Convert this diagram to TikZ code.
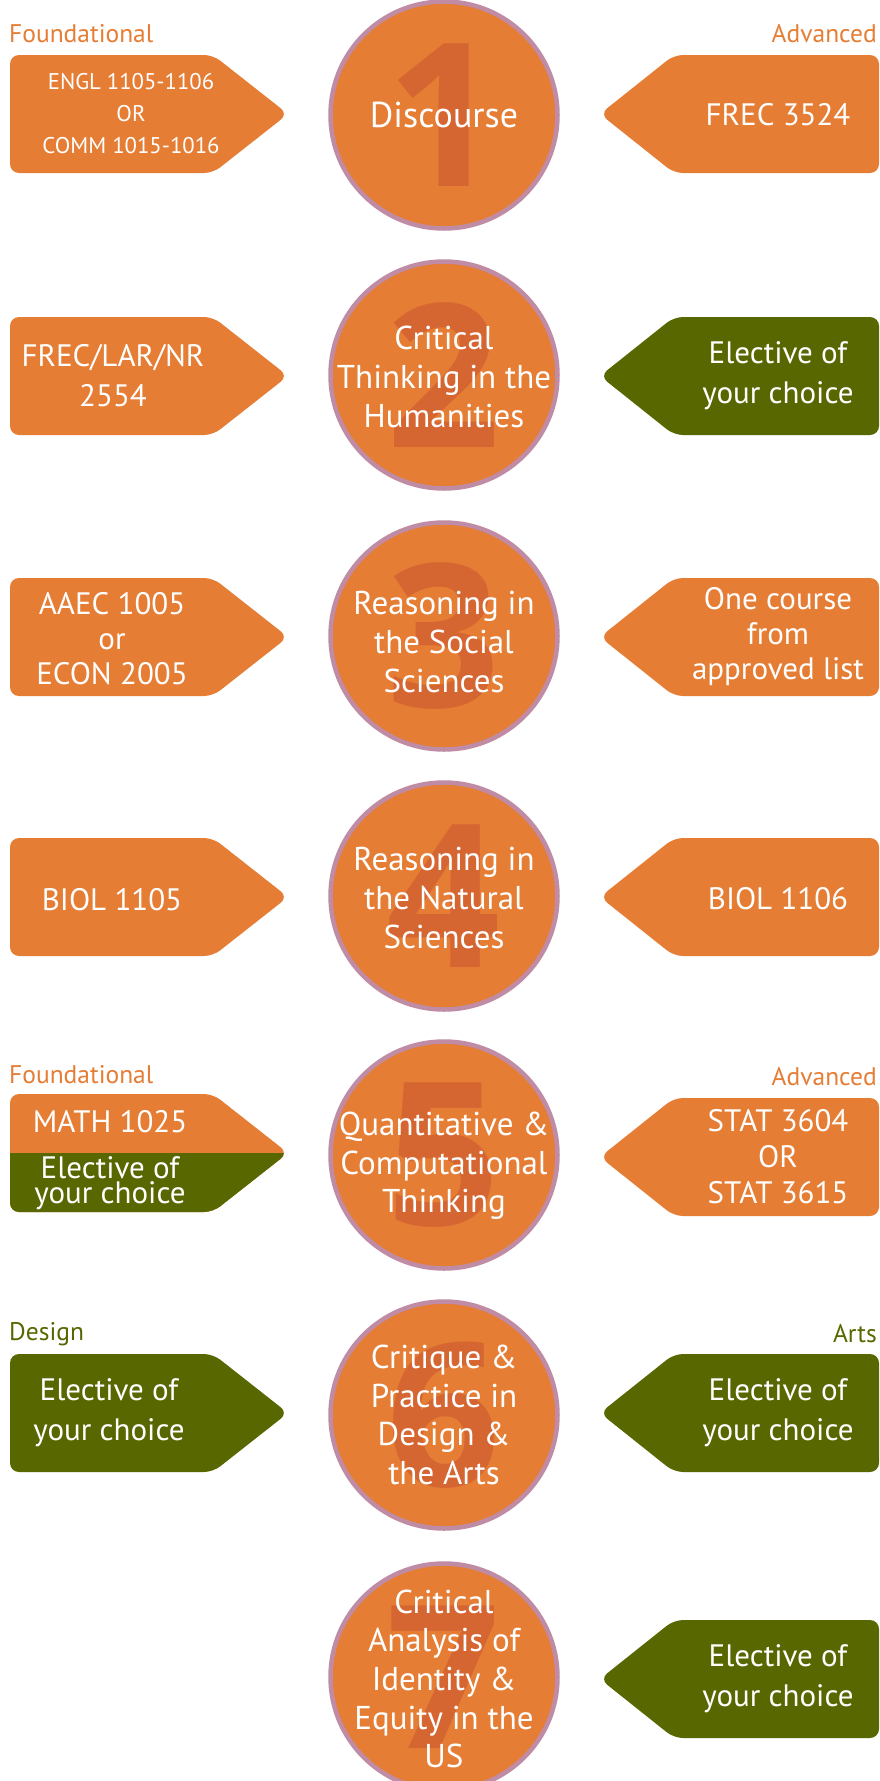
\documentclass[tikz,border=0pt]{standalone}
\usepackage{fontspec}
\setmainfont{PT Sans}
\newfontfamily\digitfont{Open Sans}
\definecolor{org}{RGB}{229,125,52}
\definecolor{grn}{RGB}{88,103,0}
\definecolor{dorg}{RGB}{213,102,50}
\definecolor{mauve}{RGB}{192,140,165}
\newcommand{\lpent}[3]{% name, yc, colour
  \fill[#3, rounded corners=9pt] (10,#2-59) -- (213,#2-59) -- (288,#2) -- (213,#2+59) -- (10,#2+59) -- cycle;
  \coordinate (#1) at (147,#2);}
\newcommand{\rpent}[3]{%
  \fill[#3, rounded corners=9pt] (879,#2-59) -- (674,#2-59) -- (600,#2) -- (674,#2+59) -- (879,#2+59) -- cycle;
  \coordinate (#1) at (741,#2);}
\begin{document}
\begin{tikzpicture}[x=1pt,y=-1pt,
  circ/.style={circle, fill=org, draw=mauve, line width=4.5pt, minimum size=227pt, inner sep=0pt,
    text=dorg, font=\digitfont\fontsize{200}{200}\selectfont\bfseries},
  ctext/.style={text=white, align=center, inner sep=0pt, font=\fontsize{33}{38.6}\selectfont},
  ptext/.style={text=white, align=center, inner sep=0pt, font=\fontsize{31}{40}\selectfont},
  stext/.style={text=white, align=center, inner sep=0pt, font=\fontsize{22.7}{32}\selectfont},
  lab/.style={inner sep=0pt, font=\fontsize{25.5}{28}\selectfont},
]
\useasboundingbox (0,0) rectangle (879,1781);
\fill[white] (0,0) rectangle (879,1781);

% labels
\node[lab, text=org, anchor=west] (f1) at (9,34) {Foundational};
\node[lab, text=org, anchor=east] (a1) at (877,34) {Advanced};
\node[lab, text=org, anchor=west] (f5) at (9,1075) {Foundational};
\node[lab, text=org, anchor=east] (a5) at (877,1077) {Advanced};
\node[lab, text=grn, anchor=west] (d6) at (9,1334) {Design};
\node[lab, text=grn, anchor=east] (r6) at (877,1334) {Arts};

% row 1
\lpent{L1}{114}{org}
\rpent{R1}{114}{org}
\node[circ] (c1) at (444,115) {1};
\node[ctext, font=\fontsize{36}{40}\selectfont] (t1) at (444,115) {Discourse};
\node[stext] (l1) at (131,114) {ENGL 1105-1106\\OR\\COMM 1015-1016};
\node[ptext] (r1) at (778,115) {FREC 3524};

% row 2
\lpent{L2}{376}{org}
\rpent{R2}{376}{grn}
\node[circ] (c2) at (444,375) {2};
\node[ctext] (t2) at (444,377) {Critical\\Thinking in the\\Humanities};
\node[ptext] (l2) at (113,376) {FREC/LAR/NR\\2554};
\node[ptext] (r2) at (778,376) {Elective of\\your choice};

% row 3
\lpent{L3}{637}{org}
\rpent{R3}{637}{org}
\node[circ] (c3) at (444,636) {3};
\node[ctext] (t3) at (444,642) {Reasoning in\\the Social\\Sciences};
\node[ptext, font=\fontsize{31}{35}\selectfont] (l3) at (112,639) {AAEC 1005\\or\\ECON 2005};
\node[ptext, font=\fontsize{31}{35}\selectfont] (r3) at (778,637) {One course\\from\\approved list};

% row 4
\lpent{L4}{897}{org}
\rpent{R4}{897}{org}
\node[circ] (c4) at (444,896) {4};
\node[ctext] (t4) at (444,898) {Reasoning in\\the Natural\\Sciences};
\node[ptext] (l4) at (112,900) {BIOL 1105};
\node[ptext] (r4) at (778,899) {BIOL 1106};

% row 5
\lpent{L5}{1153}{org}
\begin{scope}
  \clip (0,1153) rectangle (300,1230);
  \fill[grn, rounded corners=9pt] (10,1094) -- (213,1094) -- (288,1153) -- (213,1212) -- (10,1212) -- cycle;
\end{scope}
\rpent{R5}{1157}{org}
\node[circ] (c5) at (444,1155) {5};
\node[ctext] (t5) at (444,1166) {Quantitative \&\\Computational\\Thinking};
\node[ptext] (l5a) at (110,1122) {MATH 1025};
\node[ptext, font=\fontsize{31}{25}\selectfont] (l5b) at (110,1183) {Elective of\\your choice};
\node[ptext, font=\fontsize{31}{36}\selectfont] (r5) at (778,1157) {STAT 3604\\OR\\STAT 3615};

% row 6
\lpent{L6}{1413}{grn}
\rpent{R6}{1413}{grn}
\node[circ] (c6) at (444,1415) {6};
\node[ctext] (t6) at (444,1415) {Critique \&\\Practice in\\Design \&\\the Arts};
\node[ptext] (l6) at (109,1413) {Elective of\\your choice};
\node[ptext] (r6t) at (778,1413) {Elective of\\your choice};

% row 7
\rpent{R7}{1679}{grn}
\node[circ] (c7) at (444,1677) {7};
\node[ctext] (t7) at (444,1679) {Critical\\Analysis of\\Identity \&\\Equity in the\\US};
\node[ptext] (r7) at (778,1679) {Elective of\\your choice};
\end{tikzpicture}
\end{document}
